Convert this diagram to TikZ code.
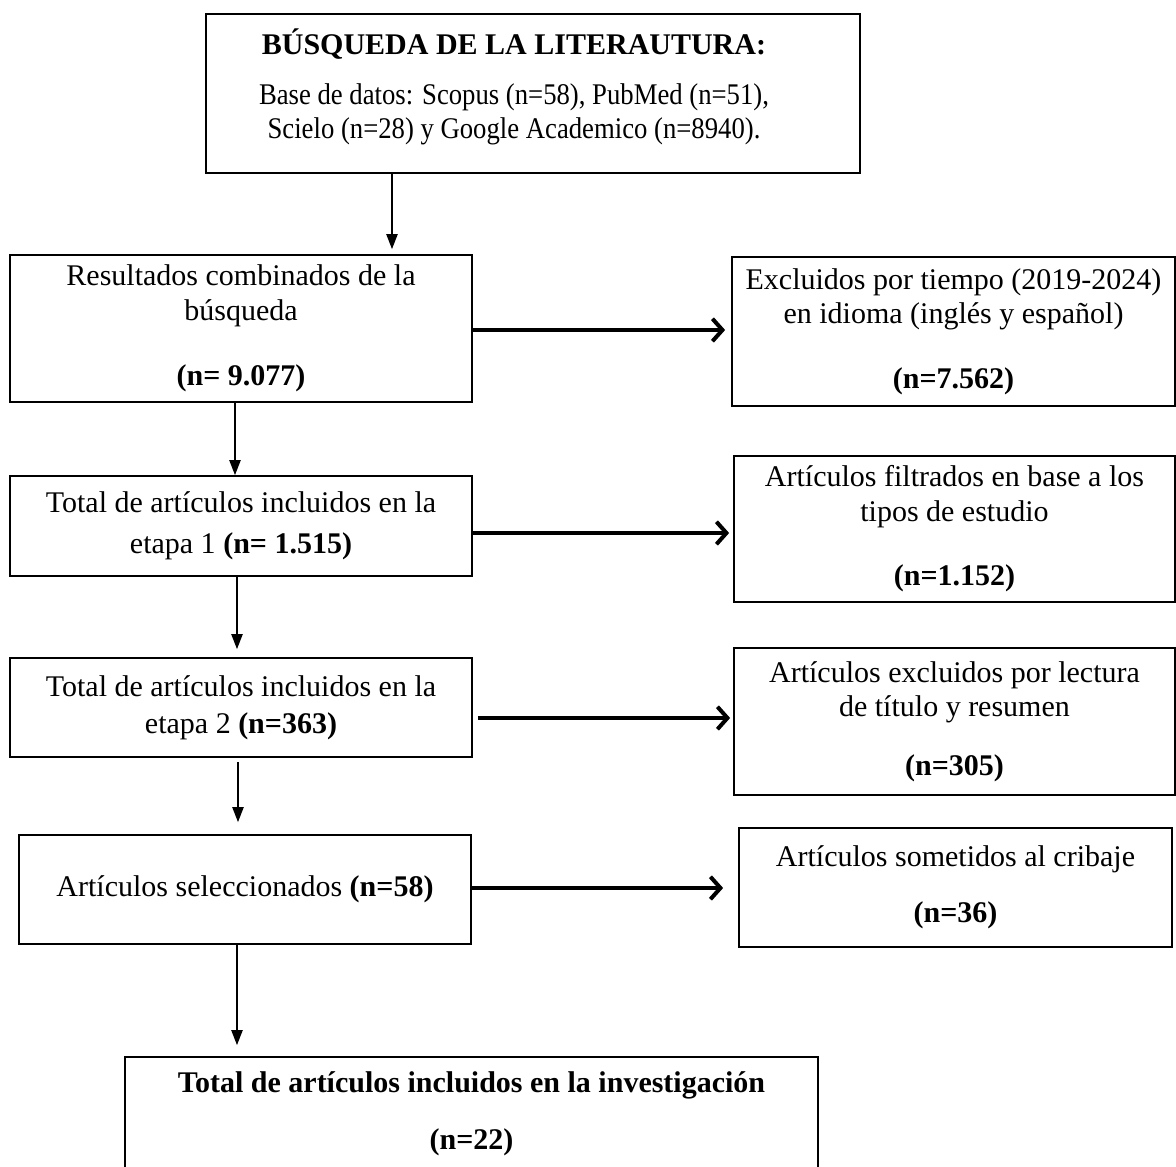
\documentclass[tikz,border=0pt]{standalone}
\usepackage{fontspec}
\setmainfont{Liberation Serif}
\usetikzlibrary{arrows.meta}

\newcommand{\narrow}{\addfontfeature{FakeStretch=0.89}}

\begin{document}
\begin{tikzpicture}[
  x=0.4pt, y=-0.4pt,
  font=\fontsize{12pt}{13.8pt}\selectfont,
  box/.style={draw=black, line width=0.7pt, align=center, inner sep=0pt},
  incl/.style={box, minimum width=184.8pt},
  excl/.style={box, minimum width=176.4pt},
  varr/.style={-{Triangle[length=6pt,width=4.5pt]}, line width=0.6pt},
  harr/.style={-{Straight Barb[length=4pt,width=9pt]}, line width=1.6pt}]

\useasboundingbox (0,0) rectangle (1176,1167);
\clip (0,0) rectangle (1176,1167);

\node[box, minimum width=261.6pt, minimum height=63.6pt] (lit) at (533,93.5) {};
\node[align=center] (littxt) at (514,87)
  {\textbf{BÚSQUEDA DE LA LITERAUTURA:}\\[6.2pt]
   {\narrow Base de datos: Scopus (n=58), PubMed (n=51),}\\
   {\narrow Scielo (n=28) y Google Academico (n=8940).}};

\node[incl, minimum height=58.8pt] (res) at (241,328.5)
  {Resultados combinados de la\\ búsqueda\\[12.5pt] \textbf{(n= 9.077)}};
\node[excl, minimum width=177.2pt, minimum height=59.6pt] (exc1) at (953.5,331.5)
  {Excluidos por tiempo (2019-2024)\\ en idioma (inglés y español)\\[12pt] \textbf{(n=7.562)}};

\node[incl, minimum height=40pt] (et1) at (241,526)
  {Total de artículos incluidos en la\\[2.5pt] etapa 1 \textbf{(n= 1.515)}};
\node[excl, minimum height=58.4pt] (exc2) at (954.5,529)
  {Artículos filtrados en base a los\\ tipos de estudio\\[12pt] \textbf{(n=1.152)}};

\node[incl, minimum height=39.6pt] (et2) at (241,707.5)
  {Total de artículos incluidos en la\\[1pt] etapa 2 \textbf{(n=363)}};
\node[excl, minimum height=58.8pt] (exc3) at (954.5,721.5)
  {Artículos excluidos por lectura\\ de título y resumen\\[9.5pt] \textbf{(n=305)}};

\node[box, minimum width=180.8pt, minimum height=43.6pt] (sel) at (245,889.5)
  {Artículos seleccionados \textbf{(n=58)}};
\node[box, minimum width=173.2pt, minimum height=47.6pt] (crib) at (955.5,887.5)
  {Artículos sometidos al cribaje\\[8.6pt] \textbf{(n=36)}};

\node[box, minimum width=277.2pt, minimum height=45.6pt, font=\fontsize{12pt}{13.8pt}\selectfont\bfseries] (fin) at (471.5,1114)
  {Total de artículos incluidos en la investigación\\[9pt] (n=22)};

\draw[varr, shorten >=2pt] (lit.south -| 392,0) -- (res.north -| 392,0);
\draw[varr] (res.south -| 235,0) -- (et1.north -| 235,0);
\draw[varr, shorten >=3.2pt] (et1.south -| 237,0) -- (et2.north -| 237,0);
\draw[varr, shorten <=1.6pt, shorten >=4.8pt] (et2.south -| 238,0) -- (sel.north -| 238,0);
\draw[varr, shorten >=4.4pt] (sel.south -| 237,0) -- (fin.north -| 237,0);

\draw[harr, shorten >=2.4pt] (res.east |- 0,330) -- (exc1.west |- 0,330);
\draw[harr, shorten >=1.6pt] (et1.east |- 0,533) -- (exc2.west |- 0,533);
\draw[harr, shorten <=2pt, shorten >=1.2pt] (et2.east |- 0,718) -- (exc3.west |- 0,718);
\draw[harr, shorten >=6pt] (sel.east |- 0,888) -- (crib.west |- 0,888);

\end{tikzpicture}
\end{document}
